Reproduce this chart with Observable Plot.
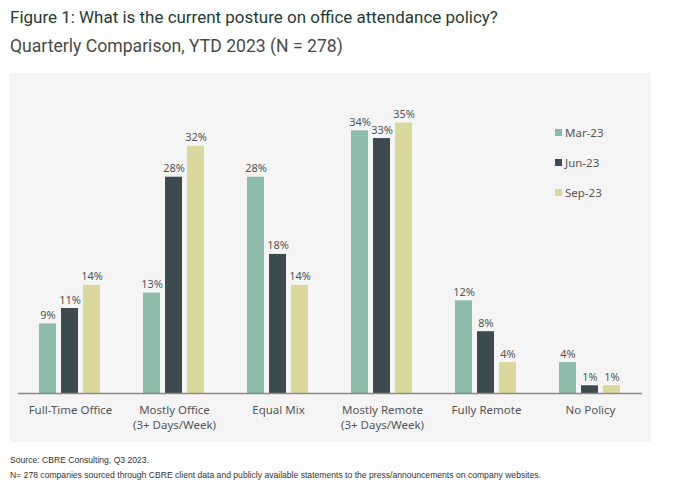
<!DOCTYPE html>
<html>
<head>
<meta charset="utf-8">
<script src="https://cdn.jsdelivr.net/npm/d3@7"></script>
<script src="https://cdn.jsdelivr.net/npm/@observablehq/plot@0.6"></script>
<style>
  body { margin: 0; background: #fff; font-family: "Noto Sans", "Open Sans", sans-serif; }
  #wrap { position: relative; width: 680px; height: 487px; overflow: hidden; }
  .head { position: absolute; left: 10px; white-space: nowrap; line-height: 1; font-family: Roboto, "Noto Sans", sans-serif; }
  #title { font-size: 17px; color: #1f3b31; }
  #subtitle { font-size: 16px; color: #4a4a4a; }
  #panel { position: absolute; left: 10px; top: 73px; width: 641px; height: 369px; background: #f5f5f5; }
  #legend { position: absolute; left: 555px; top: 117px; font-size: 11.5px; color: #555; }
  #legend div { height: 30px; display: flex; align-items: center; }
  #legend span.sw { display: inline-block; width: 7px; height: 7px; margin-right: 3px; }
  .foot { position: absolute; left: 10px; font-size: 8.6px; color: #333; white-space: nowrap; font-family: "Liberation Sans", Arial, sans-serif; }
</style>
</head>
<body>
<div id="wrap">
  <span id="title" class="head">Figure 1: What is the current posture on office attendance policy?</span>
  <span id="subtitle" class="head">Quarterly Comparison, YTD 2023 (N = 278)</span>
  <div id="panel"></div>
  <div class="foot" style="top:455px">Source: CBRE Consulting, Q3 2023.</div>
  <div class="foot" style="top:470px">N= 278 companies sourced through CBRE client data and publicly available statements to the press/announcements on company websites.</div>
</div>
<script>
const categories = ["Full-Time Office", "Mostly Office\n(3+ Days/Week)", "Equal Mix", "Mostly Remote\n(3+ Days/Week)", "Fully Remote", "No Policy"];
const series = ["Mar-23", "Jun-23", "Sep-23"];
const colors = ["#8dbcab", "#3e4b4e", "#d9d89d"];
const mar23 = [9, 13, 28, 34, 12, 4];
const jun23 = [11, 28, 18, 33, 8, 1];
const sep23 = [14, 32, 14, 35, 4, 1];

const values = [mar23, jun23, sep23];
const data = [];
categories.forEach((c, i) => {
  series.forEach((s, j) => data.push({category: c, series: s, value: values[j][i]}));
});

// fit heading widths / vertical centers to the reference
function fit(id, targetWidth, centerY) {
  const el = document.getElementById(id);
  const fs = parseFloat(getComputedStyle(el).fontSize);
  const w = el.getBoundingClientRect().width;
  el.style.fontSize = (fs * targetWidth / w) + "px";
  const r = el.getBoundingClientRect();
  el.style.top = (centerY - r.height / 2) + "px";
}
fit("title", 488, 17);
fit("subtitle", 333, 47);

const plot = Plot.plot({
  width: 641,
  height: 369,
  marginTop: 11,
  marginBottom: 49,
  marginLeft: 6,
  marginRight: 7,
  style: {background: "transparent", fontFamily: "\"Noto Sans\", sans-serif"},
  fx: {domain: categories, padding: 0, label: null},
  x: {domain: series, axis: null, paddingInner: 0.22, paddingOuter: 0.88},
  y: {domain: [0, 40], axis: null},
  color: {domain: series, range: colors},
  marks: [
    Plot.axisFx({tickSize: 0, tickPadding: 10, fontSize: 11.5, label: null, anchor: "bottom", fill: "#555", lineHeight: 1.3}),
    Plot.barY(data, {fx: "category", x: "series", y: "value", fill: "series"}),
    Plot.text(data, {fx: "category", x: "series", y: "value", text: d => d.value + "%", lineAnchor: "bottom", dy: -5, fontSize: 11, fill: "#555"}),
    Plot.ruleY([0], {stroke: "#8a8a8a", strokeWidth: 1.5})
  ]
});
document.getElementById("panel").appendChild(plot);

const legend = document.createElement("div");
legend.id = "legend";
series.forEach((s) => {
  const row = document.createElement("div");
  const sw = document.createElement("span");
  sw.className = "sw";
  sw.style.background = plot.scale("color").apply(s);
  row.appendChild(sw);
  row.appendChild(document.createTextNode(s));
  legend.appendChild(row);
});
document.getElementById("wrap").appendChild(legend);
</script>
</body>
</html>
